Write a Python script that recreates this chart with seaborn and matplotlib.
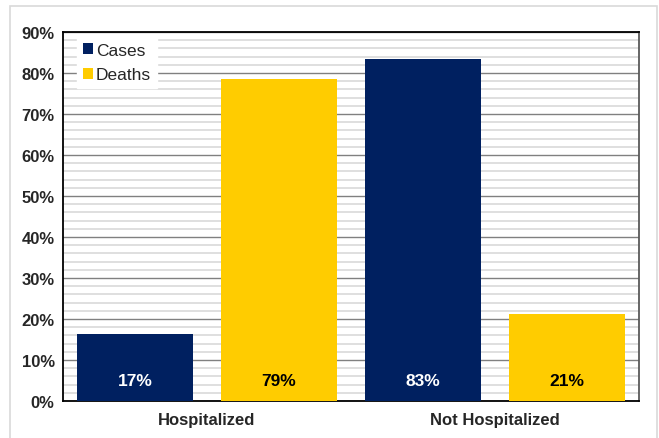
# IMPORTS
import pandas as pd
import seaborn as sns
import matplotlib.pyplot as plt
from matplotlib.patches import Rectangle
from matplotlib.ticker import MultipleLocator, PercentFormatter

# DATA
categories = ['Hospitalized', 'Not Hospitalized']
series = ['Cases', 'Deaths']
cases = [16.4, 83.3]
deaths = [78.6, 21.3]
cases_labels = ['17%', '83%']
deaths_labels = ['79%', '21%']

df = pd.DataFrame({
    'group': categories * 2,
    'series': ['Cases'] * 2 + ['Deaths'] * 2,
    'value': cases + deaths,
})

# BUILD GRAPH
sns.set_style('white')
plt.rcParams['font.family'] = ['Liberation Sans Narrow', 'Liberation Sans', 'DejaVu Sans']

fig = plt.figure(figsize=(6.59, 4.39), dpi=100)
ax = fig.add_axes([0.0956, 0.0843, 0.874, 0.8405])

palette = {'Cases': '#002060', 'Deaths': '#FFCC00'}
sns.barplot(
    data=df, x='group', y='value', hue='series', order=categories,
    hue_order=series, palette=palette, width=1.0, gap=0.2,
    saturation=1, linewidth=0, ax=ax, zorder=3,
)

ax.set_xlim(-0.5, 1.5)
ax.set_ylim(0, 90)
ax.yaxis.set_major_locator(MultipleLocator(10))
ax.yaxis.set_minor_locator(MultipleLocator(2))
ax.yaxis.set_major_formatter(PercentFormatter(decimals=0))
ax.grid(axis='y', which='minor', color='#D9D9D9', linewidth=1.2, zorder=0)
ax.grid(axis='y', which='major', color='#808080', linewidth=1.0, zorder=1)
ax.set_axisbelow(True)

for s in ax.spines.values():
    s.set_visible(True)
    s.set_color('#000000')
    s.set_linewidth(1.3)
ax.spines['right'].set_color('#595959')

ax.tick_params(axis='both', which='both', length=0)
ax.tick_params(axis='y', labelsize=12, pad=6)
ax.tick_params(axis='x', labelsize=12, pad=8)
for t in ax.get_yticklabels() + ax.get_xticklabels():
    t.set_fontweight('bold')
ax.set_xlabel('')
ax.set_ylabel('')

# value labels near the bottom of each bar
for cont, labels, col in zip(ax.containers, [cases_labels, deaths_labels], ['white', 'black']):
    for bar, lab in zip(cont, labels):
        ax.text(bar.get_x() + bar.get_width() / 2, 5, lab, ha='center', va='center',
                fontsize=12.5, fontweight='bold', color=col, zorder=5)

leg = ax.legend(loc='upper left', bbox_to_anchor=(0.018, 0.997), frameon=True,
                fancybox=False, edgecolor='white', facecolor='white', framealpha=1,
                fontsize=12.5, handlelength=0.6, handleheight=0.6, handletextpad=0.15,
                labelspacing=0.55, borderpad=0.35, borderaxespad=0.2)
for h in leg.legend_handles:
    h.set_linewidth(0)
for t in leg.get_texts():
    t.set_family(['Liberation Sans', 'DejaVu Sans'])

# light outer border of the chart area
fig.patches.append(Rectangle((10 / 659, -0.1), 647 / 659, 1.1 - 7 / 439, transform=fig.transFigure,
                             fill=False, edgecolor='#D9D9D9', linewidth=1.2))

plt.savefig('out.png', dpi=100)
